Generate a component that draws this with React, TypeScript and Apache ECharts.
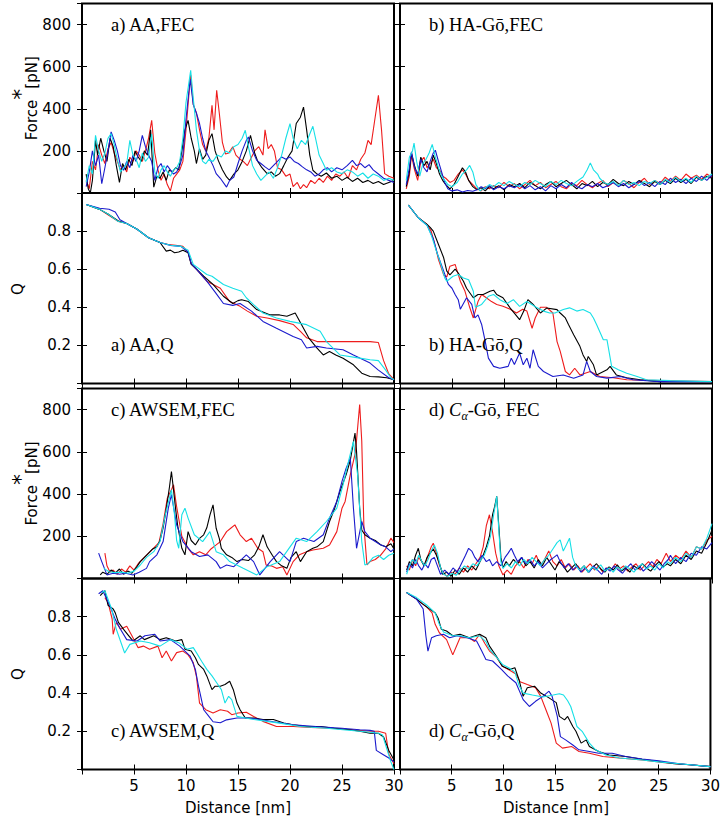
import React, { useEffect, useRef } from "react";
import * as echarts from "echarts";

// ---------- colours ----------
const C_BLACK = "#000000";
const C_RED = "#ee1c1c";
const C_BLUE = "#1a1acc";
const C_CYAN = "#16e0e6";

// ---------- tick values ----------
const xTickLabels = [5, 10, 15, 20, 25, 30];
const fecTickLabels = [200, 400, 600, 800];
const qTickLabels = [0.2, 0.4, 0.6, 0.8];

// ---------- a) AA, FEC ----------
const aFecRed = [[0.4,60],[0.7,20],[1.0,150],[1.3,110],[1.6,230],[1.9,180],[2.2,140],[2.5,210],[2.8,240],[3.1,190],[3.4,150],[3.7,110],[4.0,130],[4.3,100],[4.6,170],[4.9,150],[5.2,200],[5.5,180],[5.8,150],[6.1,200],[6.4,260],[6.7,345],[7.0,190],[7.3,110],[7.6,60],[7.9,90],[8.2,40],[8.5,10],[8.8,70],[9.1,90],[9.4,110],[9.7,150],[10.0,300],[10.3,480],[10.45,560],[10.7,420],[11.0,380],[11.3,300],[11.6,230],[11.9,200],[12.2,260],[12.5,416],[12.7,300],[12.95,488],[13.2,380],[13.5,240],[13.8,185],[14.1,190],[14.5,220],[14.8,180],[15.2,160],[15.5,150],[15.9,130],[16.2,160],[16.6,200],[17.0,220],[17.4,180],[17.6,300],[17.9,210],[18.2,230],[18.5,200],[18.8,120],[19.2,110],[19.6,80],[20.0,90],[20.3,30],[20.7,50],[21.0,20],[21.3,40],[21.6,25],[22.0,60],[22.4,45],[22.8,70],[23.2,50],[23.6,80],[24.0,60],[24.4,90],[24.8,80],[25.2,100],[25.6,70],[26.0,130],[26.4,110],[26.8,160],[27.2,190],[27.5,250],[27.8,230],[28.1,330],[28.5,464],[28.8,300],[29.1,92],[29.5,80],[30,70]];
const aFecBlack = [[0.4,90],[0.6,20],[0.8,0],[1.0,60],[1.3,250],[1.5,180],[1.8,260],[2.1,200],[2.4,150],[2.7,260],[3.0,220],[3.3,130],[3.6,50],[3.9,140],[4.2,110],[4.5,160],[4.8,130],[5.1,200],[5.4,171],[5.7,150],[6.0,200],[6.3,180],[6.6,300],[6.9,28],[7.2,80],[7.5,70],[7.8,100],[8.1,60],[8.4,110],[8.7,100],[9.0,120],[9.3,110],[9.6,200],[9.9,300],[10.2,345],[10.5,260],[10.8,200],[11.0,140],[11.3,210],[11.6,160],[11.9,180],[12.2,250],[12.5,282],[12.8,200],[13.1,155],[13.5,110],[13.9,76],[14.2,60],[14.6,90],[15.0,110],[15.4,150],[15.8,200],[16.2,274],[16.6,190],[16.9,150],[17.3,120],[17.8,92],[18.2,100],[18.6,80],[19.0,92],[19.4,130],[19.8,170],[20.2,200],[20.6,330],[21.0,360],[21.3,408],[21.6,300],[21.9,180],[22.2,108],[22.6,90],[23.0,80],[23.5,95],[24.0,70],[24.5,80],[25.0,60],[25.5,75],[26.0,55],[26.5,70],[27.0,50],[27.5,60],[28.0,45],[28.5,55],[29.0,40],[29.5,50],[30,60]];
const aFecBlue = [[0.4,30],[0.7,100],[1.0,200],[1.3,130],[1.6,180],[1.9,44],[2.2,120],[2.5,200],[2.8,290],[3.1,250],[3.4,200],[3.7,130],[4.0,108],[4.3,150],[4.6,120],[4.9,180],[5.2,150],[5.5,200],[5.8,274],[6.1,220],[6.4,180],[6.7,150],[7.0,60],[7.3,120],[7.6,140],[7.9,100],[8.2,130],[8.5,110],[8.8,90],[9.1,100],[9.4,130],[9.7,180],[10.0,350],[10.4,540],[10.7,420],[11.0,380],[11.3,330],[11.6,260],[11.9,200],[12.2,171],[12.6,130],[12.9,92],[13.3,70],[13.9,28],[14.2,60],[14.6,76],[15.0,140],[15.4,200],[15.8,250],[16.0,266],[16.4,200],[16.8,155],[17.2,140],[17.6,124],[18.0,110],[18.4,130],[18.8,150],[19.2,171],[19.6,160],[20.0,171],[20.4,150],[20.8,140],[21.2,124],[21.6,110],[22.0,100],[22.4,80],[22.8,90],[23.2,110],[23.6,120],[24.0,100],[24.5,120],[25.0,110],[25.5,130],[26.0,155],[26.4,130],[26.8,140],[27.2,120],[27.6,135],[28.0,110],[28.5,90],[29.0,70],[29.5,60],[30,50]];
const aFecCyan = [[0.4,50],[0.7,130],[1.0,90],[1.3,274],[1.6,200],[1.9,150],[2.2,190],[2.5,260],[2.8,282],[3.1,230],[3.4,160],[3.7,100],[4.0,120],[4.3,140],[4.6,250],[4.9,180],[5.2,160],[5.5,120],[5.8,190],[6.1,150],[6.4,170],[6.7,280],[7.0,100],[7.3,70],[7.6,110],[7.9,130],[8.2,100],[8.5,80],[8.8,110],[9.1,120],[9.4,150],[9.7,260],[10.0,430],[10.45,583],[10.7,450],[11.0,300],[11.3,200],[11.6,150],[11.9,139],[12.2,160],[12.6,150],[13.0,180],[13.4,171],[13.8,200],[14.2,190],[14.6,220],[15.0,230],[15.4,260],[15.7,298],[16.0,220],[16.4,130],[16.8,90],[17.2,60],[17.6,80],[18.0,100],[18.4,70],[18.8,120],[19.2,180],[19.6,260],[20.0,329],[20.3,260],[20.7,210],[21.1,250],[21.5,230],[21.9,280],[22.2,317],[22.5,250],[22.8,180],[23.2,140],[23.5,108],[24.0,120],[24.5,100],[25.0,92],[25.5,110],[26.0,100],[26.5,80],[27.0,95],[27.5,70],[28.0,90],[28.5,80],[29.0,60],[29.5,70],[30,60]];

// ---------- b) HA-Go, FEC ----------
const bFecBlack = [[0.6,30],[0.9,100],[1.1,190],[1.4,130],[1.7,80],[2.0,170],[2.3,130],[2.6,150],[2.9,110],[3.2,180],[3.5,140],[3.8,90],[4.1,60],[4.4,40],[4.8,20],[5.2,40],[5.6,80],[6.0,120],[6.3,100],[6.6,60],[7.0,30],[7.4,15],[7.8,25],[8.2,10],[8.6,30],[9.0,20],[9.5,35],[10,15],[10.5,40],[11,30],[11.5,45],[12,25],[12.5,50],[13,35],[13.5,20],[14,40],[14.5,55],[15,30],[15.5,45],[16,60],[16.5,40],[17,20],[17.5,45],[18,35],[18.5,55],[19,30],[19.5,50],[20,40],[20.5,65],[21,45],[21.5,35],[22,55],[22.5,40],[23,60],[23.5,45],[24,30],[24.5,55],[25,40],[25.5,60],[26,45],[26.5,70],[27,50],[27.5,65],[28,45],[28.5,75],[29,60],[29.5,80],[30,70]];
const bFecRed = [[0.6,20],[0.9,80],[1.1,180],[1.4,110],[1.7,60],[2.0,150],[2.3,170],[2.6,120],[2.9,140],[3.2,160],[3.5,120],[3.8,110],[4.1,80],[4.4,70],[4.8,50],[5.2,60],[5.6,90],[6.0,110],[6.3,90],[6.6,60],[7.0,40],[7.4,20],[7.8,10],[8.2,30],[8.6,20],[9.0,35],[9.5,25],[10,50],[10.5,30],[11,45],[11.5,20],[12,40],[12.5,60],[13,35],[13.5,50],[14,25],[14.5,40],[15,55],[15.5,30],[16,20],[16.5,45],[17,35],[17.5,60],[18,40],[18.5,25],[19,45],[19.5,60],[20,30],[20.5,50],[21,35],[21.5,60],[22,45],[22.5,25],[23,50],[23.5,70],[24,40],[24.5,60],[25,45],[25.5,75],[26,55],[26.5,80],[27,60],[27.5,90],[28,70],[28.5,85],[29,65],[29.5,90],[30,75]];
const bFecBlue = [[0.6,40],[0.9,120],[1.1,195],[1.4,120],[1.7,90],[2.0,160],[2.3,120],[2.6,100],[2.9,150],[3.2,190],[3.4,203],[3.7,150],[4.0,100],[4.3,50],[4.6,20],[5.0,10],[5.5,15],[6.0,5],[6.5,12],[7.0,8],[7.4,15],[7.8,30],[8.2,20],[8.6,35],[9.0,15],[9.5,30],[10,20],[10.5,35],[11,25],[11.5,40],[12,20],[12.5,35],[13,15],[13.5,30],[14,10],[14.5,35],[15,20],[15.5,40],[16,25],[16.5,50],[17,30],[17.5,20],[18,40],[18.5,30],[19,45],[19.5,25],[20,35],[20.5,50],[21,30],[21.5,45],[22,25],[22.5,40],[23,55],[23.5,35],[24,50],[24.5,30],[25,55],[25.5,40],[26,70],[26.5,50],[27,65],[27.5,45],[28,70],[28.5,55],[29,80],[29.5,60],[30,85]];
const bFecCyan = [[0.6,60],[0.9,170],[1.2,200],[1.35,237],[1.6,150],[1.9,80],[2.2,140],[2.5,160],[2.8,190],[3.1,231],[3.4,170],[3.7,120],[4.0,80],[4.3,60],[4.6,40],[5.0,30],[5.5,50],[6.0,90],[6.4,110],[6.7,131],[7.0,100],[7.3,40],[7.7,10],[8.2,25],[8.6,40],[9.0,30],[9.5,50],[10,35],[10.5,55],[11,40],[11.5,30],[12,50],[12.5,40],[13,60],[13.5,45],[14,30],[14.5,55],[15,40],[15.5,60],[16,45],[16.5,35],[17,55],[17.6,76],[18.0,110],[18.3,143],[18.6,110],[19.0,90],[19.2,70],[19.6,50],[20,40],[20.5,55],[21,35],[21.5,60],[22,40],[22.5,50],[23,35],[23.5,55],[24,45],[24.5,60],[25,40],[25.5,65],[26,50],[26.5,75],[27,55],[27.5,70],[28,50],[28.5,80],[29,60],[29.5,75],[30,90]];

// ---------- a) AA, Q ----------
const aQBlack = [[0.4,0.94],[1.7,0.914],[2.5,0.89],[3.5,0.853],[4.3,0.84],[5.3,0.81],[6.4,0.765],[7.5,0.74],[8.1,0.695],[8.5,0.7],[8.9,0.686],[9.3,0.69],[9.7,0.7],[10.2,0.686],[10.5,0.625],[11.0,0.6],[11.7,0.563],[12.6,0.52],[13.6,0.458],[14.5,0.42],[15.0,0.435],[15.35,0.44],[16.0,0.43],[16.8,0.388],[18.1,0.36],[19.0,0.36],[19.7,0.353],[20.5,0.37],[21.1,0.31],[21.8,0.24],[22.6,0.186],[23.2,0.15],[23.8,0.168],[24.4,0.15],[25.1,0.133],[26.1,0.098],[26.9,0.054],[27.7,0.037],[28.5,0.035],[29.3,0.03],[30,0.02]];
const aQRed = [[0.4,0.94],[1.7,0.914],[2.5,0.885],[3.5,0.85],[4.3,0.84],[5.3,0.81],[6.4,0.765],[7.5,0.74],[8.3,0.73],[9.0,0.726],[9.7,0.72],[10.2,0.69],[10.5,0.63],[11.0,0.6],[12.0,0.537],[13.3,0.5],[14.2,0.43],[15.2,0.405],[15.9,0.38],[16.8,0.353],[17.8,0.344],[19.0,0.33],[20.3,0.31],[21.0,0.274],[21.6,0.24],[22.6,0.22],[25,0.22],[27.7,0.22],[28.5,0.215],[29.0,0.12],[29.5,0.05],[30,0.02]];
const aQBlue = [[0.4,0.94],[1.7,0.92],[2.6,0.915],[3.2,0.9],[3.65,0.86],[4.3,0.84],[5.3,0.81],[6.4,0.765],[7.5,0.74],[8.5,0.725],[9.5,0.72],[10.2,0.69],[10.5,0.63],[11.0,0.6],[12.0,0.537],[12.8,0.48],[13.6,0.42],[14.5,0.41],[15.2,0.42],[16.3,0.38],[17.4,0.326],[18.7,0.29],[20.3,0.247],[21.1,0.23],[21.6,0.186],[22.6,0.195],[23.5,0.186],[25.1,0.177],[26.1,0.15],[27.7,0.107],[28.5,0.07],[29.5,0.03],[30,0.02]];
const aQCyan = [[0.4,0.94],[1.7,0.914],[2.5,0.89],[3.5,0.85],[4.3,0.84],[5.3,0.81],[6.4,0.765],[7.5,0.74],[8.5,0.726],[9.5,0.72],[10.2,0.7],[10.7,0.625],[12.0,0.572],[12.5,0.563],[13.6,0.52],[14.5,0.5],[15.35,0.484],[15.8,0.45],[16.5,0.414],[17.4,0.37],[18.7,0.344],[20.0,0.326],[21.6,0.309],[22.9,0.274],[23.5,0.22],[24.8,0.15],[26.7,0.133],[27.7,0.125],[28.5,0.12],[29.2,0.07],[29.7,0.03],[30,0.02]];

// ---------- b) HA-Go, Q ----------
const bQRed = [[0.8,0.937],[1.76,0.87],[2.6,0.835],[3.0,0.8],[3.4,0.72],[3.7,0.65],[4.2,0.57],[4.5,0.56],[4.8,0.616],[5.3,0.625],[5.8,0.537],[6.25,0.484],[6.7,0.4],[7.05,0.344],[7.5,0.43],[7.85,0.467],[8.3,0.45],[8.8,0.43],[9.3,0.415],[9.9,0.405],[10.6,0.39],[11.2,0.37],[11.8,0.39],[12.2,0.38],[12.7,0.29],[13.0,0.344],[13.5,0.4],[14.1,0.4],[14.7,0.37],[15.1,0.22],[15.4,0.17],[15.9,0.063],[16.3,0.045],[16.8,0.08],[17.3,0.045],[18.3,0.063],[19.2,0.037],[20.5,0.03],[21.8,0.02],[25,0.015],[30,0.01]];
const bQBlack = [[0.8,0.937],[1.76,0.87],[2.6,0.835],[2.9,0.82],[3.2,0.8],[3.7,0.73],[4.2,0.66],[4.5,0.59],[4.8,0.57],[5.3,0.6],[5.6,0.58],[6.1,0.537],[6.4,0.5],[7.05,0.45],[7.5,0.467],[8.0,0.467],[8.65,0.484],[9.0,0.49],[9.3,0.467],[9.9,0.45],[10.6,0.396],[11.5,0.335],[11.9,0.38],[12.3,0.44],[12.8,0.415],[13.5,0.37],[14.1,0.396],[15.1,0.388],[15.4,0.37],[15.9,0.344],[16.2,0.31],[16.7,0.256],[17.3,0.195],[17.6,0.15],[17.95,0.116],[18.1,0.142],[18.6,0.098],[18.9,0.045],[19.9,0.072],[20.2,0.09],[20.8,0.045],[21.8,0.03],[23.1,0.02],[25,0.01],[30,0.01]];
const bQCyan = [[0.8,0.937],[1.76,0.87],[2.6,0.83],[3.0,0.78],[3.5,0.695],[3.85,0.64],[4.3,0.554],[4.5,0.537],[5.1,0.563],[5.6,0.572],[6.1,0.554],[6.6,0.545],[7.05,0.484],[7.25,0.4],[7.85,0.415],[8.5,0.458],[9.0,0.467],[9.6,0.44],[10.3,0.42],[10.9,0.44],[11.5,0.405],[12.2,0.43],[13.1,0.4],[13.8,0.38],[14.4,0.37],[14.9,0.37],[15.7,0.388],[16.3,0.397],[17.0,0.38],[17.6,0.388],[18.3,0.37],[18.6,0.344],[18.9,0.31],[19.55,0.23],[19.9,0.23],[20.35,0.09],[21.0,0.072],[21.8,0.054],[22.8,0.037],[23.7,0.02],[26,0.015],[30,0.01]];
const bQBlue = [[0.8,0.937],[1.76,0.87],[2.6,0.83],[3.2,0.76],[3.6,0.68],[4.2,0.59],[4.65,0.52],[5.0,0.5],[5.3,0.467],[5.6,0.44],[5.8,0.39],[6.4,0.45],[6.9,0.415],[7.2,0.344],[7.5,0.36],[7.85,0.31],[8.2,0.22],[8.5,0.133],[9.0,0.09],[9.6,0.08],[10.4,0.09],[10.7,0.133],[11.0,0.1],[11.5,0.16],[11.85,0.098],[12.2,0.133],[12.5,0.08],[12.8,0.177],[13.3,0.09],[13.8,0.063],[14.7,0.037],[15.7,0.045],[16.7,0.028],[17.6,0.045],[17.95,0.116],[18.3,0.063],[18.9,0.037],[19.9,0.028],[21.2,0.037],[22.4,0.02],[25,0.01],[30,0.01]];

// ---------- c) AWSEM, FEC ----------
const cFecBlack = [[1.75,17],[2.0,30],[2.4,20],[2.8,40],[3.2,25],[3.6,45],[4.0,20],[4.4,35],[4.8,25],[5.2,50],[5.6,80],[6.0,100],[6.4,120],[6.8,140],[7.2,150],[7.5,180],[7.8,240],[8.1,330],[8.4,430],[8.6,507],[8.8,420],[9.0,330],[9.2,250],[9.6,143],[9.9,112],[10.2,222],[10.5,180],[10.9,159],[11.3,190],[11.7,207],[12.0,240],[12.3,300],[12.6,349],[12.9,238],[13.2,190],[13.4,143],[13.9,112],[14.4,100],[14.9,80],[15.4,90],[16.0,85],[16.6,112],[17.0,150],[17.4,207],[17.8,150],[18.3,110],[18.7,80],[19.2,60],[19.7,48],[20.1,100],[20.6,127],[21.0,80],[21.6,127],[22.2,143],[22.6,150],[23.2,175],[23.8,270],[24.3,333],[24.8,412],[25.4,492],[25.8,560],[26.25,689],[26.4,600],[26.7,333],[26.9,230],[27.2,207],[27.7,191],[28.2,180],[28.7,160],[29.2,150],[29.7,165],[30,140]];
const cFecRed = [[2.2,120],[2.4,60],[2.7,30],[3.0,40],[3.4,20],[3.8,45],[4.2,30],[4.6,60],[5.0,40],[5.4,70],[5.8,90],[6.2,110],[6.6,130],[7.0,150],[7.4,170],[7.8,260],[8.2,380],[8.6,420],[8.8,444],[9.1,340],[9.6,200],[10.2,143],[10.7,112],[11.3,127],[11.9,112],[12.4,140],[12.9,159],[13.3,175],[13.9,222],[14.3,238],[14.7,254],[15.2,207],[15.8,175],[16.3,191],[16.9,143],[17.4,127],[17.7,64],[18.2,60],[18.7,48],[19.3,56],[19.7,17],[20.3,80],[20.9,112],[21.6,127],[22.2,135],[23.2,143],[23.8,159],[24.5,222],[25.0,333],[25.3,365],[25.8,492],[26.3,600],[26.7,824],[26.9,650],[27.1,254],[27.4,64],[27.7,80],[28.2,90],[28.7,110],[29.2,140],[29.7,191],[30,170]];
const cFecBlue = [[1.6,120],[1.9,80],[2.4,17],[3.0,25],[3.6,20],[4.2,25],[4.9,17],[5.5,30],[6.2,48],[6.5,80],[7.2,112],[7.8,175],[8.3,333],[8.6,397],[9.1,254],[9.7,175],[10.5,127],[11.3,104],[12.1,112],[12.9,80],[13.3,48],[13.9,64],[14.6,56],[15.8,112],[16.5,80],[17.1,17],[18.1,80],[19.0,127],[20.0,80],[20.6,175],[21.3,191],[22.3,175],[23.2,207],[23.8,286],[24.5,365],[25.0,460],[25.4,523],[25.8,570],[26.1,333],[26.4,143],[26.9,270],[27.2,222],[27.7,191],[28.2,175],[28.7,160],[29.2,150],[29.7,127],[30,140]];
const cFecCyan = [[2.1,48],[2.6,32],[3.2,28],[3.8,30],[4.4,25],[5.0,35],[5.6,64],[6.2,100],[6.9,127],[7.5,175],[8.0,300],[8.6,420],[8.9,300],[9.1,180],[9.3,143],[9.6,302],[9.9,333],[10.2,286],[10.8,207],[11.6,175],[12.3,222],[12.9,127],[13.6,112],[14.2,80],[15.5,48],[16.8,17],[17.8,56],[19.0,80],[20.6,191],[21.6,175],[22.6,222],[23.5,270],[24.5,333],[25.1,444],[25.6,550],[26.1,650],[26.5,492],[26.9,175],[27.2,64],[27.5,70],[28.0,100],[28.5,110],[29.0,90],[29.5,110],[30,120]];

// ---------- d) Ca-Go, FEC ----------
const dFecBlack = [[0.64,40],[0.9,80],[1.2,60],[1.5,110],[1.76,143],[2.0,90],[2.3,60],[2.6,100],[2.9,120],[3.2,140],[3.5,110],[3.8,70],[4.1,20],[4.5,30],[4.9,10],[5.3,40],[5.7,20],[6.1,50],[6.5,30],[6.9,60],[7.3,40],[7.7,80],[8.0,110],[8.3,150],[8.6,200],[8.9,302],[9.1,340],[9.3,389],[9.5,250],[9.7,100],[9.9,50],[10.2,80],[10.5,60],[10.9,90],[11.3,70],[11.7,100],[12.1,60],[12.5,80],[12.9,50],[13.3,90],[13.7,60],[14.1,100],[14.5,70],[14.9,40],[15.3,80],[15.7,60],[16.1,30],[16.5,50],[16.9,70],[17.3,40],[17.7,60],[18.1,30],[18.5,50],[18.9,70],[19.3,45],[19.7,30],[20.1,55],[20.5,40],[20.9,65],[21.3,35],[21.7,50],[22.1,30],[22.5,60],[22.9,45],[23.3,70],[23.7,50],[24.1,35],[24.5,60],[24.9,80],[25.3,55],[25.7,70],[26,60],[26.5,90],[27,70],[27.5,110],[28,90],[28.5,130],[29,120],[29.5,170],[30,230]];
const dFecRed = [[0.64,60],[0.9,40],[1.2,90],[1.5,60],[1.8,100],[2.1,80],[2.4,60],[2.7,110],[3.0,150],[3.2,167],[3.5,120],[3.8,60],[4.1,30],[4.5,10],[4.9,30],[5.3,20],[5.7,50],[6.1,30],[6.5,60],[6.9,40],[7.3,70],[7.7,100],[8.0,150],[8.3,250],[8.6,302],[8.9,220],[9.2,120],[9.5,60],[9.9,17],[10.3,40],[10.7,20],[11.1,60],[11.5,80],[11.9,50],[12.3,90],[12.7,70],[13.1,110],[13.5,60],[13.9,90],[14.3,130],[14.7,80],[15.1,60],[15.5,90],[15.9,50],[16.3,70],[16.7,40],[17.1,60],[17.5,30],[17.9,50],[18.3,70],[18.7,40],[19.1,60],[19.5,30],[19.9,50],[20.3,40],[20.7,70],[21.1,45],[21.5,60],[21.9,35],[22.3,55],[22.7,70],[23.1,40],[23.5,60],[23.9,80],[24.3,55],[24.7,90],[25.1,70],[25.6,120],[26,80],[26.5,110],[27,90],[27.5,130],[28,100],[28.5,150],[29,140],[29.5,180],[30,200]];
const dFecBlue = [[0.64,30],[0.9,70],[1.2,50],[1.5,90],[1.8,60],[2.1,40],[2.4,70],[2.7,50],[3.0,90],[3.3,100],[3.6,60],[3.9,20],[4.3,40],[4.7,20],[5.1,50],[5.5,30],[5.9,70],[6.3,110],[6.6,143],[6.9,130],[7.2,100],[7.5,80],[7.9,110],[8.3,80],[8.6,90],[8.9,60],[9.3,80],[9.7,60],[10.1,100],[10.4,120],[10.7,143],[11.0,110],[11.3,80],[11.7,100],[12.1,70],[12.5,90],[12.9,60],[13.3,80],[13.7,50],[14.1,70],[14.5,90],[14.8,100],[15.1,112],[15.4,80],[15.8,50],[16.2,70],[16.6,40],[17.0,60],[17.4,30],[17.8,50],[18.2,30],[18.6,60],[19.0,40],[19.4,20],[19.8,50],[20.2,35],[20.6,60],[21.0,40],[21.4,25],[21.8,50],[22.2,70],[22.6,40],[23.0,60],[23.4,35],[23.8,55],[24.2,80],[24.6,60],[25.0,40],[25.4,70],[25.8,90],[26,110],[26.5,70],[27,100],[27.5,80],[28,120],[28.5,110],[29,150],[29.5,140],[30,170]];
const dFecCyan = [[0.64,20],[0.9,60],[1.2,90],[1.5,70],[1.8,110],[2.1,80],[2.4,60],[2.7,90],[3.0,130],[3.3,159],[3.6,120],[3.9,50],[4.2,20],[4.6,10],[5.0,25],[5.4,15],[5.8,40],[6.2,60],[6.6,45],[7.0,70],[7.4,60],[7.8,90],[8.1,110],[8.4,150],[8.7,200],[9.0,300],[9.3,389],[9.5,230],[9.7,80],[9.9,48],[10.3,70],[10.7,50],[11.1,80],[11.5,60],[11.9,90],[12.3,70],[12.7,100],[13.1,80],[13.5,60],[13.9,90],[14.3,110],[14.7,140],[15.1,170],[15.4,183],[15.7,130],[16.0,160],[16.3,191],[16.6,100],[16.9,60],[17.3,40],[17.7,60],[18.1,30],[18.5,55],[18.9,40],[19.3,65],[19.7,35],[20.1,50],[20.5,30],[20.9,55],[21.3,40],[21.7,60],[22.1,45],[22.5,30],[22.9,55],[23.3,70],[23.7,45],[24.1,60],[24.5,40],[24.9,70],[25.3,50],[25.7,80],[26,70],[26.5,100],[27,80],[27.5,120],[28,100],[28.5,150],[29,140],[29.5,190],[30,260]];

// ---------- c) AWSEM, Q ----------
const cQBlack = [[1.75,0.91],[2.2,0.936],[2.5,0.86],[3.0,0.84],[3.2,0.82],[3.5,0.77],[4.0,0.734],[4.5,0.7],[4.9,0.673],[5.6,0.7],[6.0,0.68],[6.9,0.7],[7.5,0.68],[8.1,0.69],[8.6,0.68],[9.0,0.673],[9.6,0.68],[9.9,0.63],[10.5,0.62],[10.9,0.585],[11.2,0.55],[11.7,0.524],[12.0,0.49],[12.5,0.418],[12.8,0.436],[13.3,0.436],[13.75,0.445],[14.2,0.462],[14.55,0.418],[14.9,0.348],[15.2,0.313],[15.7,0.27],[16.5,0.27],[17.4,0.262],[18.4,0.262],[19.4,0.243],[20.3,0.234],[21.6,0.225],[23.0,0.225],[24.2,0.216],[25.8,0.208],[26.7,0.2],[27.7,0.19],[28.5,0.19],[29.0,0.17],[29.5,0.1],[30,0.05]];
const cQRed = [[2.2,0.9],[2.5,0.875],[2.9,0.788],[3.0,0.708],[3.3,0.77],[3.7,0.734],[4.3,0.75],[4.8,0.7],[5.4,0.638],[5.9,0.646],[6.5,0.63],[7.3,0.646],[7.7,0.585],[8.1,0.62],[8.6,0.568],[9.1,0.612],[9.7,0.62],[10.2,0.6],[10.7,0.56],[11.0,0.488],[11.3,0.348],[11.9,0.313],[12.6,0.296],[13.3,0.313],[14.0,0.305],[14.4,0.287],[15.0,0.296],[15.8,0.3],[16.5,0.278],[17.4,0.252],[18.7,0.225],[20.3,0.225],[22.0,0.22],[24.0,0.216],[26.0,0.208],[27.7,0.2],[28.5,0.2],[29.2,0.19],[29.5,0.08],[30,0.03]];
const cQBlue = [[1.6,0.92],[2.0,0.936],[2.7,0.855],[3.2,0.786],[3.7,0.734],[4.3,0.68],[5.3,0.673],[6.05,0.7],[7.0,0.708],[7.5,0.673],[8.5,0.68],[9.4,0.646],[10.4,0.594],[10.9,0.524],[11.2,0.436],[11.7,0.313],[12.2,0.278],[12.6,0.25],[13.3,0.245],[13.9,0.26],[14.9,0.27],[16.0,0.27],[17.1,0.262],[18.4,0.25],[20.3,0.234],[22.5,0.225],[25.0,0.216],[26.7,0.208],[27.7,0.205],[28.1,0.2],[28.3,0.1],[28.9,0.08],[29.5,0.06],[30,0.04]];
const cQCyan = [[1.9,0.927],[2.2,0.936],[2.85,0.84],[3.3,0.734],[4.1,0.61],[4.6,0.655],[5.6,0.673],[6.5,0.664],[7.5,0.646],[8.5,0.68],[9.3,0.664],[10.1,0.63],[10.7,0.638],[11.0,0.612],[11.5,0.567],[12.0,0.524],[12.5,0.49],[12.95,0.454],[13.4,0.418],[13.75,0.348],[14.1,0.383],[14.4,0.366],[14.9,0.278],[15.7,0.27],[16.5,0.262],[17.8,0.252],[19.0,0.243],[21.0,0.225],[23.5,0.216],[26.7,0.2],[27.7,0.195],[28.5,0.19],[28.9,0.18],[29.3,0.11],[29.7,0.04],[30,0]];

// ---------- d) Ca-Go, Q ----------
const dQBlack = [[0.64,0.927],[1.1,0.91],[1.6,0.892],[2.1,0.87],[2.6,0.85],[3.4,0.82],[3.7,0.79],[4.0,0.734],[4.5,0.725],[5.1,0.7],[5.8,0.708],[6.7,0.69],[7.7,0.708],[8.3,0.69],[8.65,0.646],[9.3,0.594],[9.9,0.54],[10.6,0.524],[11.1,0.533],[11.5,0.47],[11.9,0.383],[12.3,0.428],[13.0,0.436],[13.6,0.4],[14.4,0.375],[15.1,0.35],[15.4,0.278],[15.9,0.26],[16.2,0.278],[16.7,0.225],[17.0,0.2],[17.5,0.138],[18.0,0.155],[18.3,0.12],[19.2,0.094],[20.2,0.076],[21.8,0.068],[23.4,0.054],[25,0.042],[26.5,0.03],[28,0.025],[30,0.015]];
const dQRed = [[0.64,0.927],[1.6,0.892],[2.6,0.85],[3.1,0.82],[3.4,0.76],[3.8,0.716],[4.5,0.68],[5.1,0.6],[5.8,0.69],[6.7,0.69],[7.2,0.67],[7.7,0.708],[8.2,0.66],[8.65,0.62],[9.3,0.59],[9.9,0.54],[10.6,0.52],[11.2,0.5],[11.6,0.46],[12.3,0.445],[13.1,0.428],[13.6,0.383],[14.1,0.313],[14.6,0.243],[15.1,0.138],[15.7,0.112],[16.6,0.12],[17.3,0.094],[18.3,0.085],[19.6,0.068],[21.2,0.06],[23.4,0.05],[25.6,0.035],[28,0.025],[30,0.015]];
const dQBlue = [[0.64,0.927],[1.6,0.892],[2.24,0.84],[2.5,0.7],[2.7,0.62],[3.05,0.69],[3.5,0.7],[4.2,0.708],[4.8,0.69],[5.5,0.7],[6.5,0.69],[7.4,0.673],[7.9,0.62],[8.3,0.576],[8.95,0.568],[9.8,0.524],[10.4,0.49],[11.2,0.454],[11.9,0.366],[12.5,0.33],[13.1,0.357],[13.8,0.383],[14.4,0.41],[14.7,0.383],[15.2,0.278],[15.5,0.172],[16.0,0.155],[16.7,0.128],[17.3,0.103],[18.3,0.094],[19.2,0.085],[20.5,0.085],[21.8,0.068],[23.4,0.055],[25,0.045],[27,0.03],[30,0.015]];
const dQCyan = [[0.64,0.927],[1.6,0.9],[2.6,0.86],[3.4,0.82],[3.8,0.76],[4.2,0.72],[5.1,0.7],[5.8,0.7],[6.7,0.69],[7.7,0.7],[8.3,0.67],[8.65,0.63],[9.3,0.59],[9.9,0.55],[10.6,0.53],[11.1,0.51],[11.5,0.44],[11.9,0.4],[12.8,0.39],[13.8,0.38],[14.8,0.39],[15.4,0.397],[15.8,0.39],[16.2,0.36],[16.5,0.33],[16.8,0.278],[17.1,0.225],[17.6,0.2],[18.3,0.138],[18.9,0.103],[19.9,0.076],[21.2,0.06],[23.4,0.05],[25,0.04],[27,0.03],[30,0.015]];

// ---------- panel list ----------
type Panel = { col: number; row: number; kind: "fec" | "q"; title: string; lines: { data: number[][]; color: string }[] };
const mk = (r: number[][], k: number[][], b: number[][], c: number[][]) => [
  { data: r, color: C_RED },
  { data: k, color: C_BLACK },
  { data: b, color: C_BLUE },
  { data: c, color: C_CYAN },
];
const panels: Panel[] = [
  { col: 0, row: 0, kind: "fec", title: "{t|a) AA,FEC}", lines: mk(aFecRed, aFecBlack, aFecBlue, aFecCyan) },
  { col: 1, row: 0, kind: "fec", title: "{t|b) HA-Gō,FEC}", lines: mk(bFecRed, bFecBlack, bFecBlue, bFecCyan) },
  { col: 0, row: 1, kind: "q", title: "{t|a) AA,Q}", lines: mk(aQRed, aQBlack, aQBlue, aQCyan) },
  { col: 1, row: 1, kind: "q", title: "{t|b) HA-Gō,Q}", lines: mk(bQRed, bQBlack, bQBlue, bQCyan) },
  { col: 0, row: 2, kind: "fec", title: "{t|c) AWSEM,FEC}", lines: mk(cFecRed, cFecBlack, cFecBlue, cFecCyan) },
  { col: 1, row: 2, kind: "fec", title: "{t|d) }{i|C}{s|α}{t|-Gō, FEC}", lines: mk(dFecRed, dFecBlack, dFecBlue, dFecCyan) },
  { col: 0, row: 3, kind: "q", title: "{t|c) AWSEM,Q}", lines: mk(cQRed, cQBlack, cQBlue, cQCyan) },
  { col: 1, row: 3, kind: "q", title: "{t|d) }{i|C}{s|α}{t|-Gō,Q}", lines: mk(dQRed, dQBlack, dQBlue, dQCyan) },
];

const COL_LEFT = [82, 400];
const PANEL_W = 312;
const ROWS = [
  { top: 3.5, h: 189.5 },
  { top: 193, h: 190.5 },
  { top: 388.5, h: 190 },
  { top: 578.5, h: 191 },
];
const SANS = "DejaVu Sans";
const SERIF = "Liberation Serif";

function buildOption() {
  const grid: any[] = [];
  const xAxis: any[] = [];
  const yAxis: any[] = [];
  const series: any[] = [];
  const graphic: any[] = [];
  const tick = { show: true, inside: true, length: 5, lineStyle: { color: "#000", width: 1 } };

  panels.forEach((p, i) => {
    const left = COL_LEFT[p.col];
    const { top, h } = ROWS[p.row];
    const fec = p.kind === "fec";
    grid.push({ left, top, width: PANEL_W, height: h, show: true, borderColor: "#000", borderWidth: 2, backgroundColor: "transparent" });
    const xBase = {
      gridIndex: i, type: "value", min: 0, max: 30, interval: 5,
      axisLine: { show: false }, axisTick: tick, splitLine: { show: false },
    };
    xAxis.push({
      ...xBase, position: "bottom",
      axisLabel: {
        show: p.row === 3, color: "#000", fontFamily: SANS, fontSize: 15, margin: 9,
        formatter: (v: number) => (xTickLabels.indexOf(Math.round(v)) >= 0 ? String(Math.round(v)) : ""),
      },
    });
    xAxis.push({ ...xBase, position: "top", axisLabel: { show: false } });
    const yBase = {
      gridIndex: i, type: "value", min: 0, max: fec ? 900 : 1, interval: fec ? 200 : 0.2,
      axisLine: { show: false }, axisTick: tick, splitLine: { show: false },
    };
    yAxis.push({
      ...yBase, position: "left",
      axisLabel: {
        show: p.col === 0, color: "#000", fontFamily: SANS, fontSize: 15, margin: 11,
        formatter: (v: number) => {
          if (fec) return fecTickLabels.indexOf(Math.round(v)) >= 0 ? String(Math.round(v)) : "";
          const r = Math.round(v * 10) / 10;
          return qTickLabels.indexOf(r) >= 0 ? r.toFixed(1) : "";
        },
      },
    });
    yAxis.push({ ...yBase, position: "right", axisLabel: { show: false } });

    p.lines.forEach((ln, k) => {
      series.push({
        type: "line", xAxisIndex: 2 * i, yAxisIndex: 2 * i, data: ln.data,
        showSymbol: false, symbol: "none", silent: true, clip: true, z: 2 + k,
        lineStyle: { color: ln.color, width: 1.1 }, itemStyle: { color: ln.color },
      });
    });

    // panel title
    const ty = fec ? top + h / 9 : top + h * 0.8;
    graphic.push({
      type: "text", x: left + 29, y: ty, z: 100,
      style: {
        text: p.title, align: "left", verticalAlign: "middle", fill: "#000",
        rich: {
          t: { fontFamily: SERIF, fontSize: 18.5, fill: "#000", lineHeight: 24, verticalAlign: "middle" },
          i: { fontFamily: SERIF, fontSize: 18.5, fontStyle: "italic", fill: "#000", lineHeight: 24, verticalAlign: "middle" },
          s: { fontFamily: SERIF, fontSize: 12, fontStyle: "italic", fill: "#000", lineHeight: 24, verticalAlign: "bottom" },
        },
      },
    });
  });

  // y axis names
  const yNames = [
    { y: ROWS[0].top + ROWS[0].h / 2, txt: "force" },
    { y: 289, txt: "q" },
    { y: ROWS[2].top + ROWS[2].h / 2, txt: "force" },
    { y: 674, txt: "q" },
  ];
  yNames.forEach((n) => {
    graphic.push({
      type: "text", x: n.txt === "q" ? 18 : 24, y: n.y, rotation: Math.PI / 2, z: 100,
      style: n.txt === "q"
        ? { text: "Q", fontFamily: SANS, fontSize: 15, fill: "#000", align: "center", verticalAlign: "middle" }
        : {
            text: "{a|Force}{s|*}{a|[pN]}", align: "center", verticalAlign: "middle",
            rich: {
              a: { fontFamily: SANS, fontSize: 15, fill: "#000", lineHeight: 30, verticalAlign: "bottom" },
              s: { fontFamily: SANS, fontSize: 22, fill: "#000", lineHeight: 30, verticalAlign: "top" },
            },
          },
    });
  });
  // x axis names
  [COL_LEFT[0] + PANEL_W / 2, COL_LEFT[1] + PANEL_W / 2].forEach((cx) => {
    graphic.push({
      type: "text", x: cx, y: 808, z: 100,
      style: { text: "Distance [nm]", fontFamily: SANS, fontSize: 15, fill: "#000", align: "center", verticalAlign: "middle" },
    });
  });

  return { animation: false, backgroundColor: "#ffffff", grid, xAxis, yAxis, series, graphic };
}

export default function App() {
  const ref = useRef<HTMLDivElement>(null);
  useEffect(() => {
    if (!ref.current) return;
    const chart = echarts.init(ref.current, null, { renderer: "svg" });
    chart.setOption(buildOption() as any);
    return () => chart.dispose();
  }, []);
  return <div ref={ref} style={{ position: "absolute", left: 0, top: 0, width: 723, height: 828 }} />;
}
